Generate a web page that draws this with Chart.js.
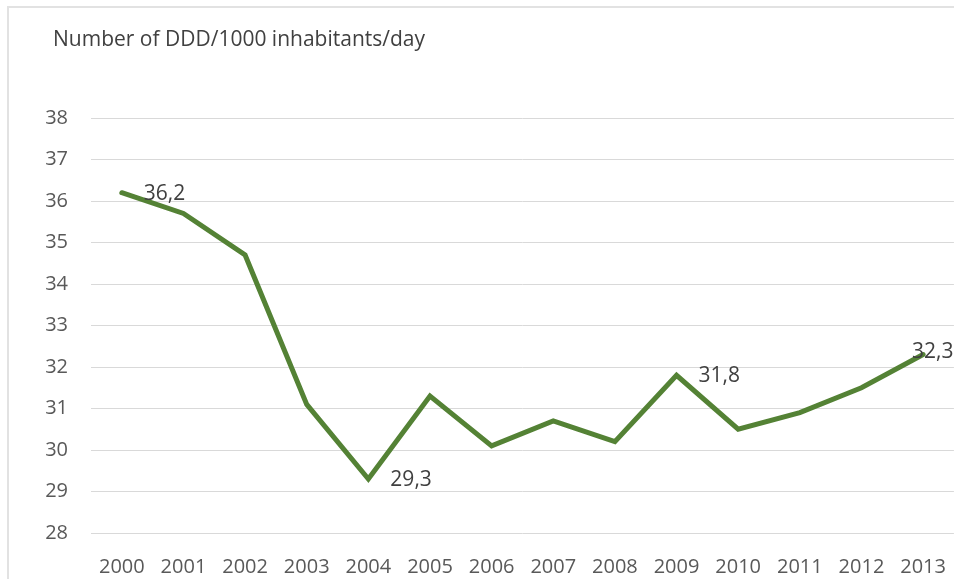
<!DOCTYPE html>
<html>
<head>
<meta charset="utf-8">
<script src="https://cdn.jsdelivr.net/npm/chart.js@4/dist/chart.umd.min.js"></script>
<style>
  html, body { margin: 0; padding: 0; background: #fff; overflow: hidden; }
  #wrap { position: relative; width: 960px; height: 579px; }
  #frame { position: absolute; left: 7px; top: 6px; width: 1000px; height: 1000px;
           border-left: 2px solid #e2e2e2; border-top: 2px solid #e2e2e2; }
  canvas { position: absolute; left: 0; top: 0; }
</style>
</head>
<body>
<div id="wrap">
  <div id="frame"></div>
  <canvas id="chart" width="960" height="579"></canvas>
</div>
<script>
// data
const years = ["2000","2001","2002","2003","2004","2005","2006","2007","2008","2009","2010","2011","2012","2013"];
const ddd = [36.2, 35.7, 34.7, 31.1, 29.3, 31.3, 30.1, 30.7, 30.2, 31.8, 30.5, 30.9, 31.5, 32.3];
const labelled = [0, 4, 9, 13];
const yMin = 28, yMax = 38;
const unitTitle = "Number of DDD/1000 inhabitants/day";

const FONT = "'Open Sans', 'Liberation Sans', sans-serif";

// axis title top left, and value labels right of the point like Excel does
const textBits = {
  id: "textBits",
  afterDraw(chart) {
    const ctx = chart.ctx;
    const pts = chart.getDatasetMeta(0).data;
    ctx.save();
    ctx.font = "21px " + FONT;
    ctx.fillStyle = "#404040";
    ctx.textBaseline = "middle";
    ctx.textAlign = "left";
    ctx.fillText(unitTitle, 53, 40);

    labelled.forEach(i => {
      const p = pts[i];
      const txt = ddd[i].toFixed(1).replace(".", ",");
      const last = i === ddd.length - 1;
      ctx.fillText(txt, p.x + (last ? -11 : 22), p.y + (last ? -3 : 1));
    });
    ctx.restore();
  }
};

new Chart(document.getElementById("chart"), {
  type: "line",
  data: {
    labels: years,
    datasets: [{
      data: ddd,
      borderColor: "#548235",
      borderWidth: 5,
      pointRadius: 0,
      tension: 0,
      fill: false,
      borderCapStyle: "round",
      borderJoinStyle: "miter"
    }]
  },
  options: {
    responsive: false,
    animation: false,
    layout: { padding: { left: 8, right: 1, top: 118, bottom: 0 } },
    plugins: {
      legend: { display: false },
      tooltip: { enabled: false },
      title: { display: false }
    },
    scales: {
      x: {
        offset: true,
        grid: { display: false },
        border: { display: false },
        ticks: { color: "#595959", font: { family: FONT, size: 20 }, padding: 14, maxRotation: 0 },
        afterFit(s) { s.height = 46; }
      },
      y: {
        min: yMin,
        max: yMax,
        grid: { color: "#d9d9d9", lineWidth: 1, drawTicks: false },
        border: { display: false },
        ticks: { stepSize: 1, color: "#595959", font: { family: FONT, size: 20 }, padding: 23 },
        afterFit(s) { s.width = 83; }
      }
    }
  },
  plugins: [textBits]
});
</script>
</body>
</html>
